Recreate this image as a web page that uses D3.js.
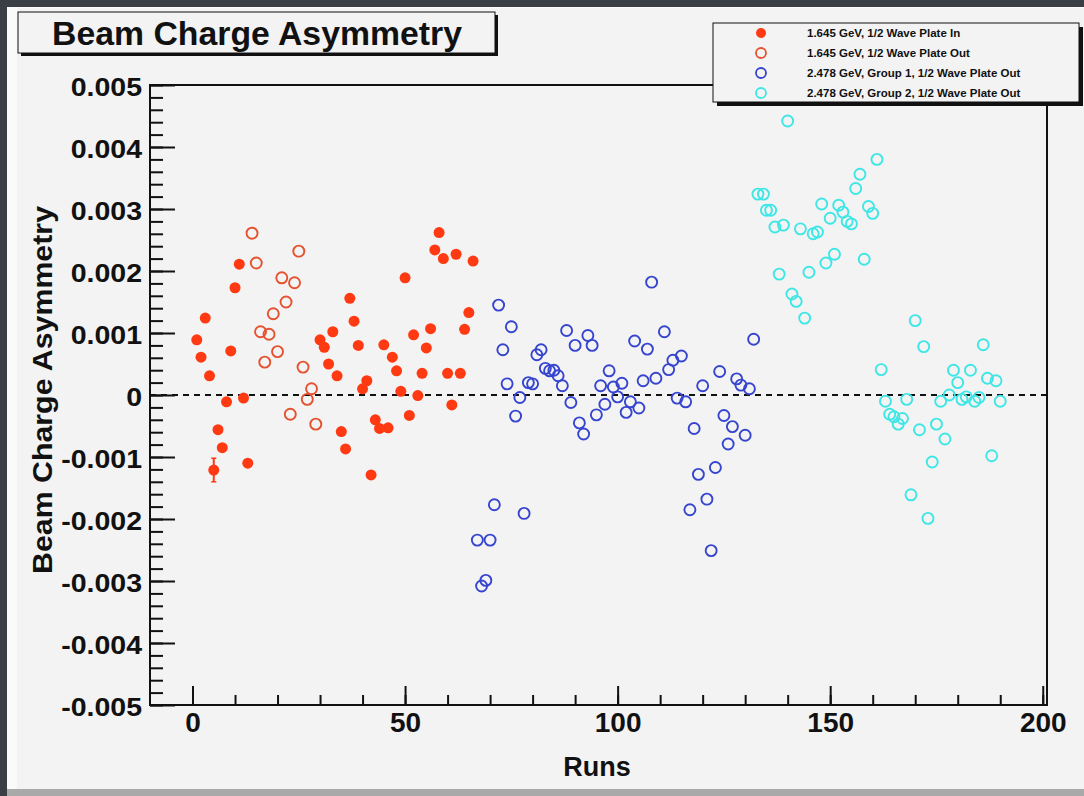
<html>
<head>
    <script src="https://d3js.org/d3.v7.min.js"></script>
    <style>
        body { margin: 0; background: #3a3e45; }
        text { font-family: "Liberation Sans", Arial, sans-serif; font-weight: bold; fill: #111; }
    </style>
</head>
<body>
    <svg id="chart" width="1084" height="796"></svg>
    <script>
        // 1.645 GeV, wave plate in (filled red)
        const inRuns = [1,2,3,4,5,6,7,8,9,10,11,12,13,
            30,31,32,33,34,35,36,37,38,39,40,41,42,43,44,45,46,47,48,49,50,
            51,52,53,54,55,56,57,58,59,60,61,62,63,64,65,66];
        const inVals = [0.00089,0.00061,0.00124,0.00031,-0.00121,-0.00056,-0.00085,-0.00011,0.00071,0.00173,0.00211,-0.00005,-0.0011,
            0.00089,0.00077,0.0005,0.00102,0.00031,-0.00059,-0.00087,0.00156,0.00119,0.0008,0.0001,0.00023,-0.00129,-0.0004,-0.00054,0.00081,-0.00053,0.00061,0.00039,0.00006,0.00189,
            -0.00033,0.00097,-0.00001,0.00035,0.00076,0.00107,0.00234,0.00262,0.0022,0.00035,-0.00016,0.00227,0.00035,0.00106,0.00133,0.00216];
        const inErrRuns = [5];
        const inErrVals = [-0.00121];
        const inErrs = [0.00019];

        // 1.645 GeV, wave plate out (open red)
        const outRuns = [14,15,16,17,18,19,20,21,22,23,24,25,26,27,28,29];
        const outVals = [0.00261,0.00213,0.00102,0.00053,0.00098,0.00131,0.0007,0.00189,0.0015,-0.00031,0.00181,0.00232,0.00045,-0.00007,0.0001,-0.00047];

        // 2.478 GeV, group 1 (open blue)
        const g1Runs = [67,68,69,70,71,72,73,74,75,76,77,78,79,80,81,82,83,84,85,86,87,88,89,90,
            91,92,93,94,95,96,97,98,99,100,101,102,103,104,105,106,107,108,109,111,112,113,114,115,
            116,117,118,119,120,121,122,123,124,125,126,127,128,129,130,131,132];
        const g1Vals = [-0.00234,-0.00308,-0.00299,-0.00234,-0.00177,0.00145,0.00073,0.00018,0.0011,-0.00034,-0.00004,-0.00191,0.0002,0.00018,0.00065,0.00073,0.00043,0.00039,0.0004,0.00031,0.00015,0.00104,-0.00012,0.0008,
            -0.00045,-0.00063,0.00096,0.0008,-0.00032,0.00015,-0.00015,0.00039,0.00013,-0.00003,0.00019,-0.00028,-0.00011,0.00087,-0.00021,0.00023,0.00074,0.00182,0.00027,0.00102,0.00041,0.00056,-0.00005,0.00063,
            -0.00011,-0.00185,-0.00054,-0.00128,0.00015,-0.00168,-0.00251,-0.00117,0.00038,-0.00033,-0.00079,-0.00051,0.00026,0.00016,-0.00065,0.0001,0.0009];

        // 2.478 GeV, group 2 (open cyan)
        const g2Runs = [133,134.3,135,136,137,138,139,140,141,142,143,144,145,146,147,148,149,150,151,152,153,154,155,156,157,158,159,160,161,
            162,163,164,165,166,167,168,169,170,171,172,173,174,175,176,177,178,179,180,181,182,183,184,185,186,187,188,189,190];
        const g2Vals = [0.00324,0.00324,0.00298,0.00298,0.00271,0.00195,0.00274,0.00442,0.00163,0.00151,0.00268,0.00124,0.00198,0.0026,0.00263,0.00308,0.00213,0.00285,0.00227,0.00306,0.00295,0.0028,0.00276,0.00333,0.00356,0.00219,0.00304,0.00293,0.0038,
            0.00041,-0.0001,-0.00031,-0.00035,-0.00047,-0.00038,-0.00007,-0.00161,0.0012,-0.00056,0.00078,-0.00199,-0.00108,-0.00047,-0.0001,-0.00071,0,0.0004,0.0002,-0.00007,-0.00003,0.0004,-0.0001,-0.00004,0.00081,0.00027,-0.00098,0.00023,-0.0001];

        const xTicks = [0, 50, 100, 150, 200];
        const xTickLabels = ["0", "50", "100", "150", "200"];
        const yTicks = [-0.005,-0.004,-0.003,-0.002,-0.001,0,0.001,0.002,0.003,0.004,0.005];
        const yTickLabels = ["-0.005","-0.004","-0.003","-0.002","-0.001","0","0.001","0.002","0.003","0.004","0.005"];

        const legendLabels = ["1.645 GeV, 1/2 Wave Plate In", "1.645 GeV, 1/2 Wave Plate Out",
            "2.478 GeV, Group 1, 1/2 Wave Plate Out", "2.478 GeV, Group 2, 1/2 Wave Plate Out"];

        const red = "#ff3a12", redOpen = "#e4522f", blue = "#3645cf", cyan = "#3fe6e6";

        const svg = d3.select("#chart");

        // slide-like frame around the canvas
        svg.append("rect").attr("x", 7).attr("y", 7).attr("width", 1077).attr("height", 782).attr("fill", "#fafafa");
        svg.append("rect").attr("x", 17).attr("y", 8).attr("width", 1067).attr("height", 781).attr("fill", "#f3f3f3");
        svg.append("rect").attr("x", 7).attr("y", 789).attr("width", 1077).attr("height", 7).attr("fill", "#a9a9a9");

        const x = d3.scaleLinear().domain([-10, 201]).range([150, 1047]);
        const y = d3.scaleLinear().domain([-0.005, 0.005]).range([705, 85]);

        // frame
        svg.append("rect").attr("x", 150).attr("y", 85).attr("width", 897).attr("height", 620)
            .attr("fill", "none").attr("stroke", "#111").attr("stroke-width", 2);

        // zero line
        svg.append("line").attr("x1", 150).attr("x2", 1047).attr("y1", y(0)).attr("y2", y(0))
            .attr("stroke", "#111").attr("stroke-width", 2).attr("stroke-dasharray", "6,5");

        // y axis, ticks pointing inward
        const yMinor = d3.range(-0.005, 0.00501, 0.0002);
        svg.append("g").attr("transform", "translate(150,0)")
            .call(d3.axisLeft(y).tickValues(yMinor).tickSize(-13).tickFormat(""))
            .call(g => g.select(".domain").remove())
            .selectAll("line").attr("stroke", "#111").attr("stroke-width", 2);
        const yAxis = svg.append("g").attr("transform", "translate(150,0)")
            .call(d3.axisLeft(y).tickValues(yTicks).tickSize(-25).tickPadding(7)
                .tickFormat((d, i) => yTickLabels[i]));
        yAxis.select(".domain").remove();
        yAxis.selectAll("line").attr("stroke", "#111").attr("stroke-width", 2);
        yAxis.selectAll("text").style("font-size", "25px").attr("dy", "0.42em")
            .attr("transform", "scale(1.14,1)");

        // x axis
        const xMinor = d3.range(0, 201, 10);
        svg.append("g").attr("transform", "translate(0,705)")
            .call(d3.axisBottom(x).tickValues(xMinor).tickSize(-10).tickFormat(""))
            .call(g => g.select(".domain").remove())
            .selectAll("line").attr("stroke", "#111").attr("stroke-width", 2);
        const xAxis = svg.append("g").attr("transform", "translate(0,705)")
            .call(d3.axisBottom(x).tickValues(xTicks).tickSize(-19).tickPadding(7)
                .tickFormat((d, i) => xTickLabels[i]));
        xAxis.select(".domain").remove();
        xAxis.selectAll("line").attr("stroke", "#111").attr("stroke-width", 2);
        xAxis.selectAll("text").style("font-size", "28px");

        // axis titles
        svg.append("text").attr("x", 597).attr("y", 776).attr("text-anchor", "middle")
            .style("font-size", "27px").text("Runs");
        svg.append("text").attr("transform", "translate(52,390)rotate(-90)").attr("text-anchor", "middle")
            .style("font-size", "27px").attr("textLength", 368).attr("lengthAdjust", "spacingAndGlyphs")
            .text("Beam Charge Asymmetry");

        // error bars
        const eb = svg.append("g");
        inErrRuns.forEach((r, i) => {
            eb.append("line").attr("x1", x(r)).attr("x2", x(r))
                .attr("y1", y(inErrVals[i] - inErrs[i])).attr("y2", y(inErrVals[i] + inErrs[i]))
                .attr("stroke", red).attr("stroke-width", 2);
            [-1, 1].forEach(s => eb.append("line").attr("x1", x(r) - 2.5).attr("x2", x(r) + 2.5)
                .attr("y1", y(inErrVals[i] + s * inErrs[i])).attr("y2", y(inErrVals[i] + s * inErrs[i]))
                .attr("stroke", red).attr("stroke-width", 1.5));
        });

        function openSeries(runs, vals, color) {
            svg.append("g").selectAll("circle").data(runs).join("circle")
                .attr("cx", d => x(d)).attr("cy", (d, i) => y(vals[i])).attr("r", 5.5)
                .attr("fill", "none").attr("stroke", color).attr("stroke-width", 1.9);
        }
        openSeries(outRuns, outVals, redOpen);
        openSeries(g1Runs, g1Vals, blue);
        openSeries(g2Runs, g2Vals, cyan);

        svg.append("g").selectAll("circle").data(inRuns).join("circle")
            .attr("cx", d => x(d)).attr("cy", (d, i) => y(inVals[i])).attr("r", 5.5)
            .attr("fill", red);

        // title box with shadow
        svg.append("rect").attr("x", 21).attr("y", 15).attr("width", 477).attr("height", 41).attr("fill", "#111");
        svg.append("rect").attr("x", 18).attr("y", 12).attr("width", 477).attr("height", 41)
            .attr("fill", "#f3f3f3").attr("stroke", "#111").attr("stroke-width", 1);
        svg.append("text").attr("x", 257).attr("y", 45).attr("text-anchor", "middle")
            .style("font-size", "33px").attr("textLength", 410).attr("lengthAdjust", "spacingAndGlyphs")
            .text("Beam Charge Asymmetry");

        // legend box with shadow
        svg.append("rect").attr("x", 717).attr("y", 27).attr("width", 366).attr("height", 79).attr("fill", "#111");
        svg.append("rect").attr("x", 713).attr("y", 23).attr("width", 366).attr("height", 79)
            .attr("fill", "#f3f3f3").attr("stroke", "#111").attr("stroke-width", 1);
        const legendColors = [red, redOpen, blue, cyan];
        legendLabels.forEach((lab, i) => {
            const ly = 33 + i * 20;
            svg.append("circle").attr("cx", 761).attr("cy", ly).attr("r", 5)
                .attr("fill", i === 0 ? red : "none").attr("stroke", legendColors[i]).attr("stroke-width", i === 0 ? 0 : 1.8);
            svg.append("text").attr("x", 807).attr("y", ly).attr("dy", "0.36em")
                .style("font-size", "11.5px").text(lab);
        });
    </script>
</body>
</html>
